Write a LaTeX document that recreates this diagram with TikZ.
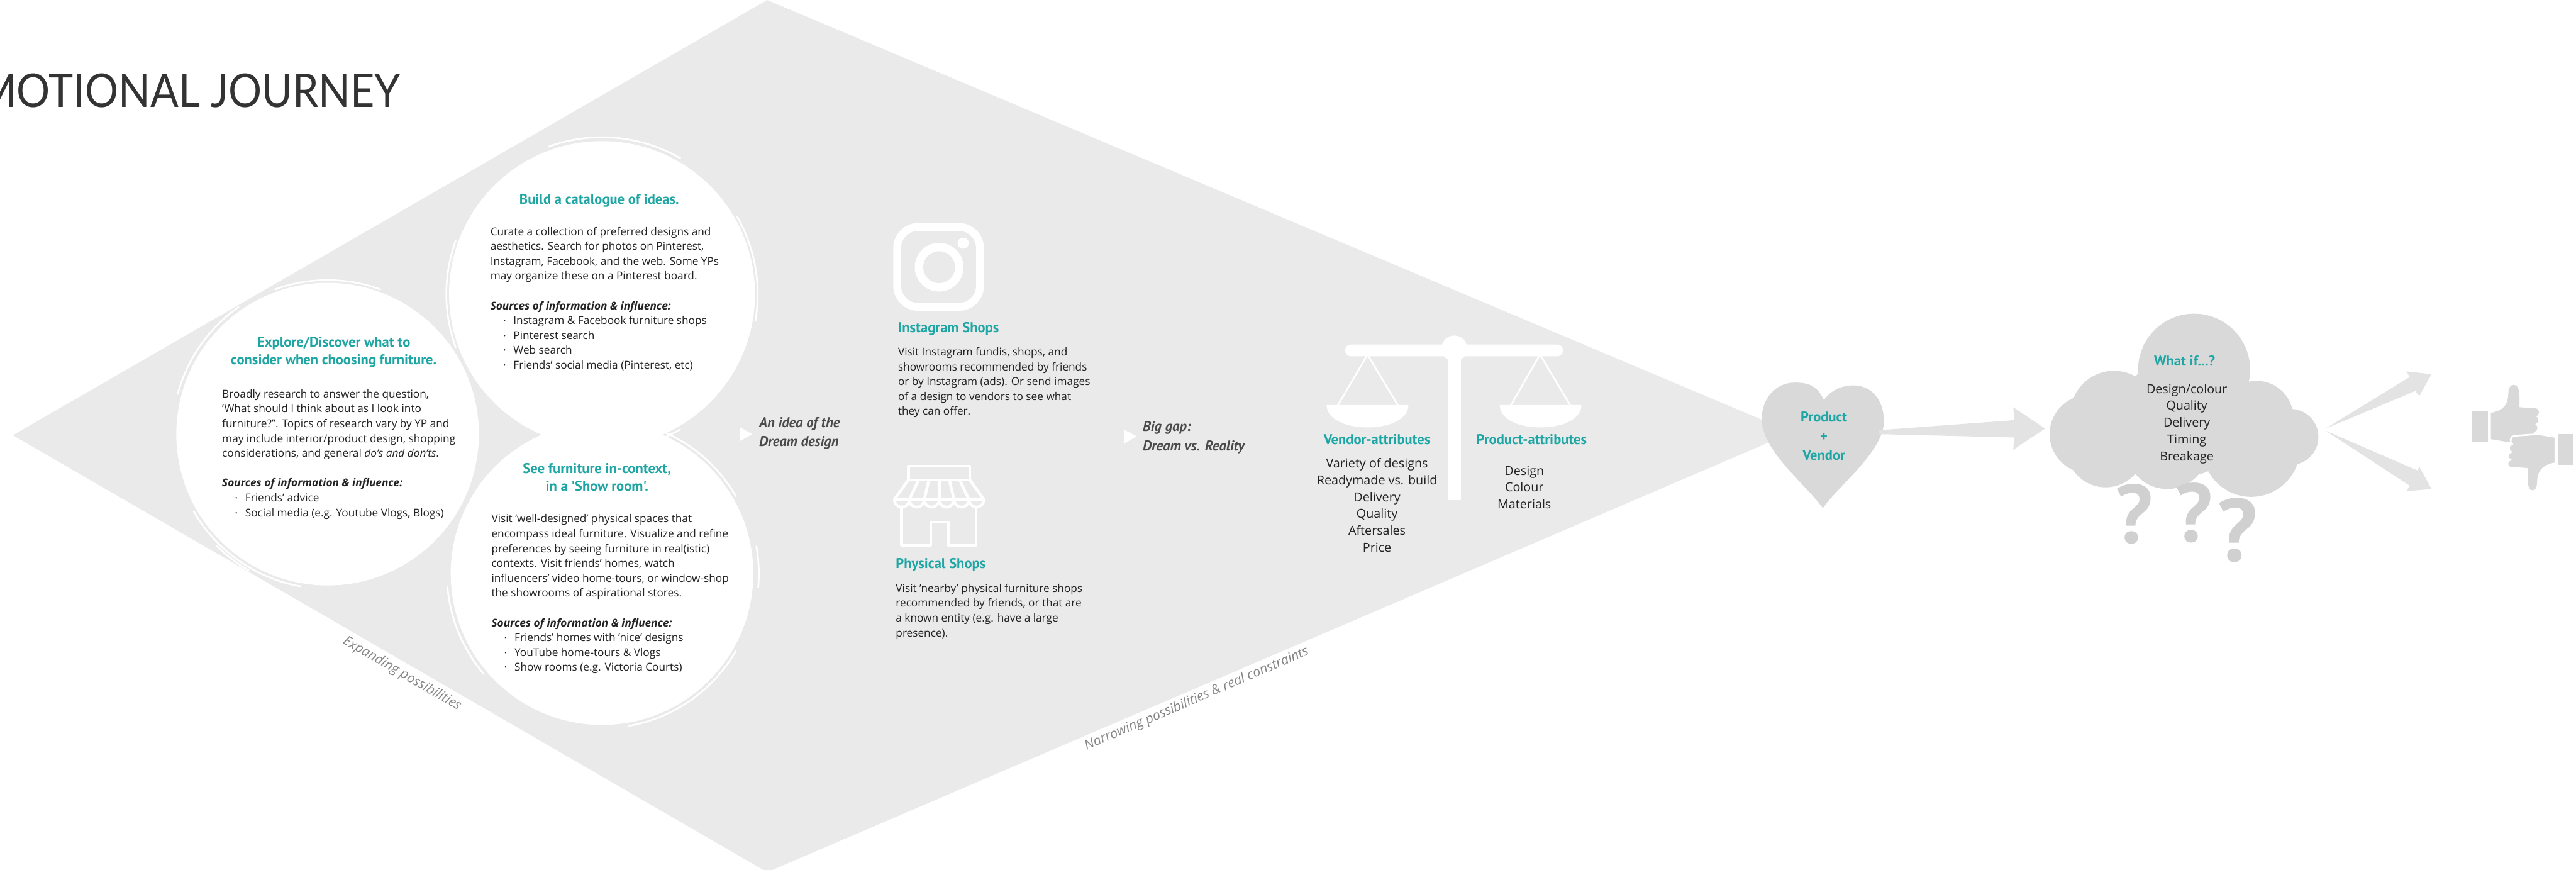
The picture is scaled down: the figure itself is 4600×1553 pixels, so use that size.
\documentclass[tikz,border=0pt]{standalone}
\usepackage{fontspec}
\usepackage{graphicx}
\setmainfont{Open Sans}
\newfontfamily\hfont{PT Sans}
\newfontfamily\titlefont{Lato}
\usetikzlibrary{calc}

\definecolor{accent}{RGB}{30,166,164}
\definecolor{pane}{HTML}{EAEAEA}
\definecolor{blob}{HTML}{D9D9D9}
\definecolor{flow}{HTML}{E3E3E3}
\definecolor{qmark}{HTML}{D0D0D0}
\definecolor{ink}{HTML}{222222}
\definecolor{note}{HTML}{4A4A4A}
\definecolor{edgeink}{HTML}{858585}
\definecolor{titleink}{HTML}{333333}

% stacked lines, first baseline at the node's base
\newcommand{\leftlines}[1]{\vtop{\halign{##\hfil\cr#1\crcr}}}
\newcommand{\midlines}[1]{\vtop{\halign{\hfil##\hfil\cr#1\crcr}}}
\newcommand{\itm}{\kern6.6pt\makebox[5.1pt][l]{\raisebox{0.12em}{\scalebox{0.6}{•}}}}
\newcommand{\srcs}{\textbf{\textit{Sources of information \& influence:}}}

\tikzset{
  head/.style={font=\hfont\bfseries\fontsize{7.2}{9.1}\selectfont, text=accent, inner sep=0, anchor=base},
  body/.style={font=\fontsize{5.5}{7.54}\selectfont, text=ink, inner sep=0, anchor=base west},
  attr/.style={font=\fontsize{6.3}{8.54}\selectfont, text=ink, inner sep=0, anchor=base},
  remark/.style={font=\hfont\bfseries\itshape\fontsize{7.2}{9.7}\selectfont, text=note, inner sep=0, anchor=base west},
  edgelabel/.style={font=\itshape\fontsize{6.8}{7.5}\selectfont, text=edgeink, inner sep=0},
  bubble/.style={circle, fill=white, inner sep=0},
  brushline/.style={white, line width=0.03cm, line cap=round},
  shopline/.style={white, line width=0.05cm, line join=round},
  pointer/.style={fill=white},
  qstyle/.style={font=\hfont\bfseries\fontsize{42}{42}\selectfont, text=qmark, inner sep=0, anchor=base},
}

\begin{document}
\begin{tikzpicture}[x=0.01cm, y=-0.01cm]
\path[use as bounding box] (0,0) rectangle (4600,1553);
\clip (0,0) rectangle (4600,1553);

% ---------- the funnel: widening then narrowing ----------
\fill[pane] (23,777) -- (1370,0) -- (3200,772) -- (1370,1557) -- cycle;

% ---------- title ----------
\node[anchor=base east, inner sep=0, text=titleink] (title) at (716,191)
  {\resizebox{7.54cm}{0.6cm}{\titlefont\llap{E}MOTIONAL JOURNEY}};

% ---------- three discovery bubbles ----------
\node[bubble, minimum size=5.4cm]  (c1) at (585,775)  {};
\node[bubble, minimum size=5.46cm] (c2) at (1075,525) {};
\node[bubble, minimum size=5.4cm]  (c3) at (1075,1024) {};

\begin{scope}[shift={(c1.center)}]
  \draw[brushline] (100:276) arc (100:150:276);
  \draw[brushline] (195:277) arc (195:235:277);
  \draw[brushline] (250:275) arc (250:290:275);
  \draw[brushline] (120:281) arc (120:135:281);
\end{scope}
\begin{scope}[shift={(c2.center)}]
  \draw[brushline] (60:279) arc (60:110:279);
  \draw[brushline] (160:278) arc (160:200:278);
  \draw[brushline] (250:280) arc (250:300:280);
  \draw[brushline] (330:278) arc (330:370:278);
\end{scope}
\begin{scope}[shift={(c3.center)}]
  \draw[brushline] (30:276) arc (30:80:276);
  \draw[brushline] (140:277) arc (140:175:277);
  \draw[brushline] (280:276) arc (280:330:276);
  \draw[brushline] (350:280) arc (350:365:280);
\end{scope}

% bubble 1
\node[head] (h1) at (596,619) {\midlines{Explore/Discover what to\cr consider when choosing furniture.}};
\node[body] (b1) at (396,710) {\leftlines{%
Broadly research to answer the question,\cr
'What should I think about as I look into\cr
furniture?". Topics of research vary by YP and\cr
may include interior/product design, shopping\cr
considerations, and general \textit{do's and don'ts}.\cr
\cr
\srcs\cr
\itm Friends' advice\cr
\itm Social media (e.g. Youtube Vlogs, Blogs)}};

% bubble 2
\node[head] (h2) at (1070,364) {Build a catalogue of ideas.};
\node[body] (b2) at (875,420) {\leftlines{%
Curate a collection of preferred designs and\cr
aesthetics. Search for photos on Pinterest,\cr
Instagram, Facebook, and the web. Some YPs\cr
may organize these on a Pinterest board.\cr
\cr
\srcs\cr
\itm Instagram \& Facebook furniture shops\cr
\itm Pinterest search\cr
\itm Web search\cr
\itm Friends' social media (Pinterest, etc)}};

% bubble 3
\node[head] (h3) at (1066,845) {\midlines{See furniture in-context,\cr in a 'Show room'.}};
\node[body] (b3) at (877,933) {\leftlines{%
Visit 'well-designed' physical spaces that\cr
encompass ideal furniture. Visualize and refine\cr
preferences by seeing furniture in real(istic)\cr
contexts. Visit friends' homes, watch\cr
influencers' video home-tours, or window-shop\cr
the showrooms of aspirational stores.\cr
\cr
\srcs\cr
\itm Friends' homes with 'nice' designs\cr
\itm YouTube home-tours \& Vlogs\cr
\itm Show rooms (e.g. Victoria Courts)}};

% ---------- outcome of the first phase ----------
\fill[pointer] (1322,763) -- (1343,775) -- (1322,787) -- cycle;
\node[remark] (dream) at (1355,763) {\leftlines{An idea of the\cr Dream design}};

% ---------- Instagram shops ----------
\draw[white, line width=0.14cm, rounded corners=0.38cm] (1602,405) rectangle (1750,548);
\draw[white, line width=0.15cm] (1677,477) circle (36);
\fill[white] (1720,434) circle (10);
\node[head, anchor=base west] (insta) at (1603,593) {Instagram Shops};
\node[body] (instab) at (1603,635) {\leftlines{%
Visit Instagram fundis, shops, and\cr
showrooms recommended by friends\cr
or by Instagram (ads). Or send images\cr
of a design to vendors to see what\cr
they can offer.}};

% ---------- physical shops ----------
\draw[shopline] (1622,832) rectangle (1732,857);
\draw[shopline] (1622,857) -- (1597,892) -- (1757,892) -- (1732,857);
\foreach \k in {1,...,5}
  \draw[shopline] ({1622+\k*110/6},857) -- ({1597+\k*160/6},892);
\draw[shopline] (1597,892) arc (180:0:13.33) arc (180:0:13.33) arc (180:0:13.33)
                 arc (180:0:13.33) arc (180:0:13.33) arc (180:0:13.33);
\draw[shopline] (1610,905) -- (1610,973) -- (1662,973) -- (1662,932) -- (1693,932)
                -- (1693,973) -- (1743,973) -- (1743,905);
\node[head, anchor=base west] (phys) at (1599,1015) {Physical Shops};
\node[body] (physb) at (1599,1057) {\leftlines{%
Visit 'nearby' physical furniture shops\cr
recommended by friends, or that are\cr
a known entity (e.g. have a large\cr
presence).}};

% ---------- the gap ----------
\fill[pointer] (2007,767) -- (2030,779) -- (2007,792) -- cycle;
\node[remark] (gap) at (2040,770) {\leftlines{Big gap:\cr Dream vs. Reality}};

% ---------- balance ----------
\fill[white, rounded corners=0.1cm] (2402,615) rectangle (2791,636);
\fill[white] (2597,622) circle (23);
\fill[white] (2586,622) rectangle (2609,893);
\draw[white, line width=0.03cm] (2388,725) -- (2442,633) -- (2497,725);
\draw[white, line width=0.03cm] (2697,725) -- (2750,633) -- (2805,725);
\fill[white] (2369,723) -- (2515,723) .. controls (2515,748) and (2482,763) .. (2442,763)
             .. controls (2402,763) and (2369,748) .. (2369,723) -- cycle;
\fill[white] (2678,723) -- (2824,723) .. controls (2824,748) and (2791,763) .. (2751,763)
             .. controls (2711,763) and (2678,748) .. (2678,723) -- cycle;
\node[head] (vend) at (2459,793) {Vendor-attributes};
\node[head] (prod) at (2735,793) {Product-attributes};
\node[attr] (vendl) at (2459,835) {\midlines{Variety of designs\cr Readymade vs. build\cr
  Delivery\cr Quality\cr Aftersales\cr Price}};
\node[attr] (prodl) at (2722,848) {\midlines{Design\cr Colour\cr Materials}};

% ---------- edge labels ----------
\node[edgelabel, rotate=-30.1] (expand) at (718,1203) {Expanding possibilities};
\node[edgelabel, rotate=23.3] (narrow) at (2137,1248) {Narrowing possibilities \& real constraints};

% ---------- decision: heart ----------
\fill[blob] (3257,714) .. controls (3245,690) and (3232,683) .. (3205,683)
  .. controls (3170,683) and (3146,712) .. (3146,748)
  .. controls (3146,805) and (3225,865) .. (3255,907)
  .. controls (3285,865) and (3364,805) .. (3364,752)
  .. controls (3364,712) and (3340,688) .. (3310,688)
  .. controls (3285,688) and (3267,700) .. (3257,714) -- cycle;
\coordinate (heart) at (3255,790);
\node[head, font=\hfont\bfseries\fontsize{7.2}{9.8}\selectfont] (pv) at (3257,753)
  {\midlines{Product\cr+\cr Vendor}};

% ---------- doubts: cloud ----------
\fill[blob] (3900,740) circle (110) (3918,660) circle (100) (3775,740) circle (78)
  (3730,775) circle (70) (3760,800) circle (70) (3870,800) circle (73)
  (4020,800) circle (87) (4030,745) circle (65) (4090,780) circle (50);
\coordinate (cloud) at (3905,760);
\node[qstyle] (q1) at (3811,970) {?};
\node[qstyle] (q2) at (3918,967) {?};
\node[qstyle, font=\hfont\bfseries\fontsize{45}{45}\selectfont] (q3) at (3995,1002) {?};
\node[head] (whatif) at (3901,653) {What if...?};
\node[attr] (doubts) at (3905,702) {\midlines{Design/colour\cr Quality\cr Delivery\cr Timing\cr Breakage}};

% ---------- heart to cloud ----------
\coordinate (hout) at (3355,771);
\coordinate (cin) at (3652,765);
\fill[flow] ($(hout)+(0,-3)$) -- ($(cin)+(-55,-15)$) -- ($(cin)+(-57,-38)$) -- (cin)
  -- ($(cin)+(-57,38)$) -- ($(cin)+(-55,16)$) -- ($(hout)+(0,4)$) -- cycle;

% ---------- fork to the verdict ----------
\coordinate (fork) at (4153,767);
\coordinate (uptip) at (4342,668);
\coordinate (downtip) at (4342,873);
\fill[flow] ($(fork)+(0,-2)$) -- ($(uptip)+(-39,5)$) -- ($(uptip)+(-45,-5)$) -- (uptip)
  -- ($(uptip)+(-22,39)$) -- ($(uptip)+(-29,30)$) -- cycle;
\fill[flow] ($(fork)+(0,2)$) -- ($(downtip)+(-25,-33)$) -- ($(downtip)+(-22,-40)$) -- (downtip)
  -- ($(downtip)+(-45,4)$) -- ($(downtip)+(-39,-6)$) -- cycle;

% ---------- thumbs up / thumbs down ----------
\begin{scope}[shift={(4505.5,782)}]
  \fill[blob] (-90.5,-48) rectangle (-62.5,7);
  \fill[blob] (-57.5,-45) .. controls (-37.5,-49) and (-27.5,-57) .. (-26.5,-77)
    .. controls (-26.5,-92) and (-21.5,-95) .. (-16.5,-95)
    .. controls (-10.5,-95) and (-6.5,-88) .. (-6.5,-72) -- (-6.5,-55) -- (21.5,-53)
    .. controls (30.5,-53) and (30.5,-40) .. (22.5,-39)
    .. controls (29.5,-37) and (28.5,-26) .. (21.5,-25)
    .. controls (27.5,-22) and (26.5,-11) .. (19.5,-11)
    .. controls (24.5,-7) and (22.5,4) .. (15.5,4)
    -- (-27.5,7) -- (-57.5,2) -- cycle;
\end{scope}
\begin{scope}[shift={(4505.5,782)}, rotate=180]
  \fill[blob] (-90.5,-48) rectangle (-62.5,7);
  \filldraw[fill=blob, draw=white, line width=0.03cm]
    (-57.5,-45) .. controls (-37.5,-49) and (-27.5,-57) .. (-26.5,-77)
    .. controls (-26.5,-92) and (-21.5,-95) .. (-16.5,-95)
    .. controls (-10.5,-95) and (-6.5,-88) .. (-6.5,-72) -- (-6.5,-55) -- (21.5,-53)
    .. controls (30.5,-53) and (30.5,-40) .. (22.5,-39)
    .. controls (29.5,-37) and (28.5,-26) .. (21.5,-25)
    .. controls (27.5,-22) and (26.5,-11) .. (19.5,-11)
    .. controls (24.5,-7) and (22.5,4) .. (15.5,4)
    -- (-27.5,7) -- (-57.5,2) -- cycle;
\end{scope}
\coordinate (verdict) at (4505,782);
\end{tikzpicture}
\end{document}
